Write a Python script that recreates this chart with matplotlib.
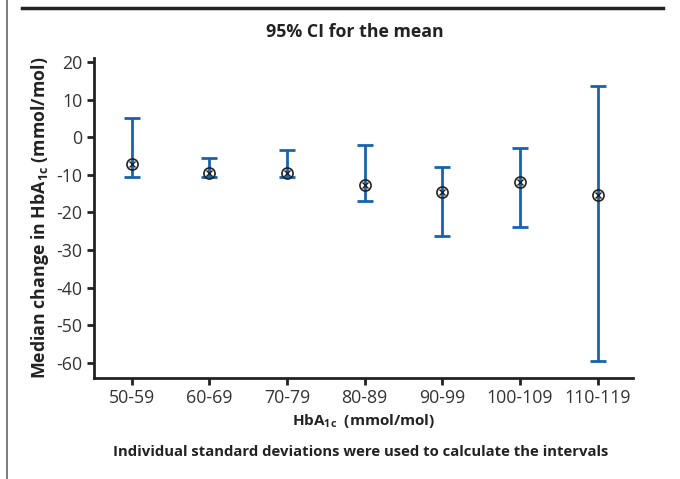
import matplotlib
matplotlib.use("Agg")
import matplotlib.pyplot as plt
import numpy as np

plt.rcParams['font.family'] = ['Open Sans', 'DejaVu Sans']
plt.rcParams['mathtext.fontset'] = 'custom'
plt.rcParams['mathtext.rm'] = 'Open Sans'
plt.rcParams['mathtext.bf'] = 'Open Sans:bold'
plt.rcParams['axes.unicode_minus'] = False

groups = ['50-59', '60-69', '70-79', '80-89', '90-99', '100-109', '110-119']
median = [-7.2, -9.4, -9.4, -12.7, -14.5, -11.8, -15.4]
ci_low = [-10.5, -10.5, -10.5, -16.9, -26.2, -24.0, -59.6]
ci_high = [5.2, -5.5, -3.4, -2.1, -7.8, -3.0, 13.6]

blue = '#1763b0'
dark = '#222222'

fig = plt.figure(figsize=(6.8, 4.79), dpi=100)
ax = fig.add_axes([0.1387, 0.2115, 0.7926, 0.6668])

x = np.arange(len(groups))
med = np.array(median)
lo = med - np.array(ci_low)
hi = np.array(ci_high) - med
ax.errorbar(x, med, yerr=[lo, hi], fmt='none', ecolor=blue, elinewidth=2,
            capsize=6, capthick=2, zorder=2)
ax.plot(x, med, 'o', ms=8, mfc='none', mec=dark, mew=1.2, zorder=3)
ax.plot(x, med, 'x', ms=4.5, mec=dark, mew=1.0, zorder=3)

ax.set_xlim(-0.48, 6.46)
ax.set_ylim(-64, 21)
ax.set_yticks(np.arange(-60, 21, 10))
ax.set_xticks(x)
ax.set_xticklabels(groups)
ax.tick_params(labelsize=12.8, width=2, length=5, color=dark, labelcolor='#333333')
for s in ['top', 'right']:
    ax.spines[s].set_visible(False)
for s in ['left', 'bottom']:
    ax.spines[s].set_linewidth(2)
    ax.spines[s].set_color(dark)

ax.set_ylabel(r'Median change in HbA$_{\mathbf{1c}}$ (mmol/mol)', fontsize=12.8,
              fontweight='bold', color=dark, labelpad=4)
ax.set_xlabel(r'HbA$_{\mathbf{1c}}$  (mmol/mol)', fontsize=11, fontweight='bold',
              color=dark, labelpad=3)

fig.text(0.522, 0.933, '95% CI for the mean', ha='center', va='center',
         fontsize=12.8, fontweight='bold', color=dark)
fig.text(0.531, 0.056, 'Individual standard deviations were used to calculate the intervals',
         ha='center', va='center', fontsize=10.7, fontweight='bold', color=dark)

# frame lines of the figure
fig.add_artist(plt.Line2D([22/680, 663/680], [1 - 8/479, 1 - 8/479],
                          color=dark, lw=2.5, transform=fig.transFigure))
fig.add_artist(plt.Line2D([7/680, 7/680], [0, 1], color='#666666', lw=1.2,
                          transform=fig.transFigure))

fig.savefig('out.png', dpi=100)
